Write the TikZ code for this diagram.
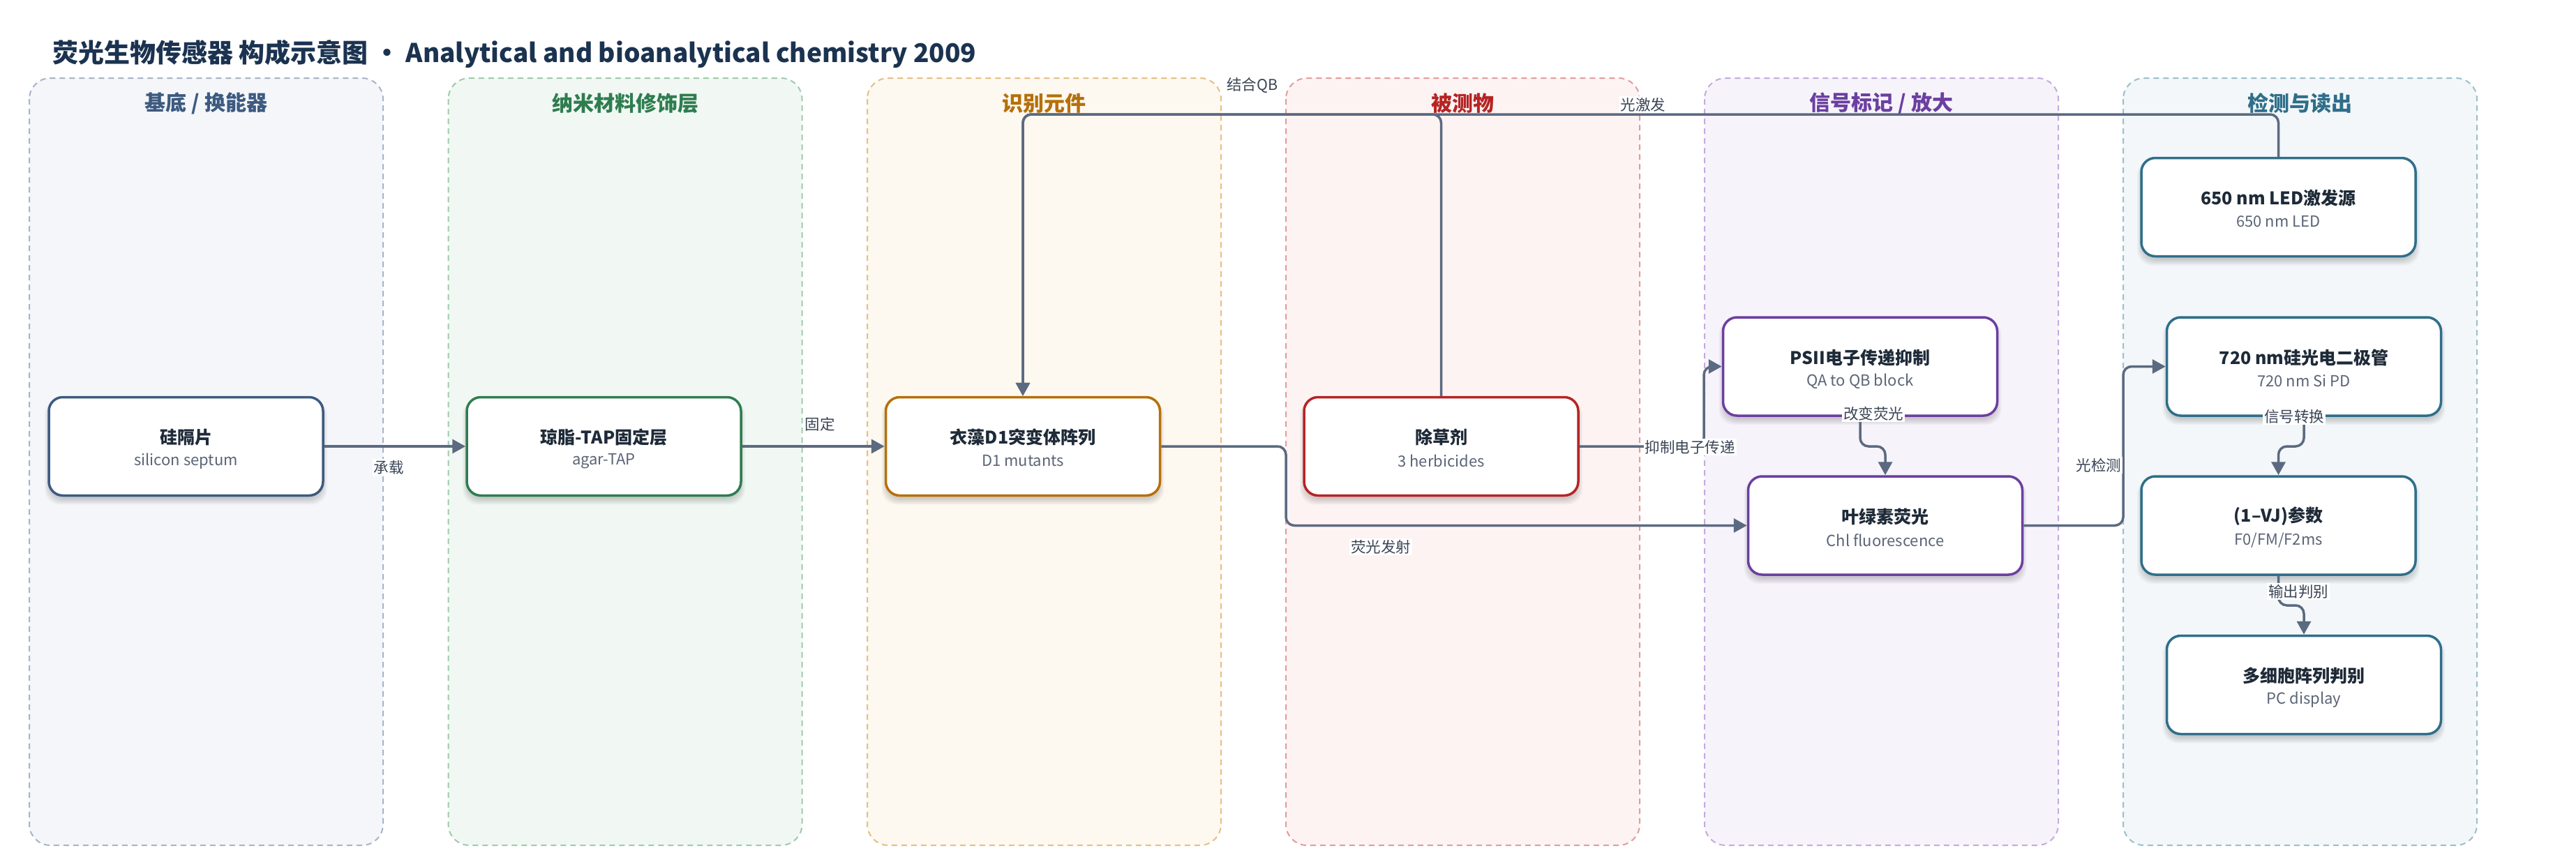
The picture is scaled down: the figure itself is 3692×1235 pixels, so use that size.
\documentclass[tikz,border=0pt]{standalone}
\usepackage{fontspec}
\setmainfont{Noto Sans CJK SC}
\usetikzlibrary{arrows.meta}
\definecolor{conncol}{HTML}{5B6A80}
\definecolor{titlecol}{HTML}{1B3350}
\definecolor{boxtxt}{HTML}{1E2A38}
\definecolor{subtxt}{HTML}{5B6577}
\definecolor{labtxt}{HTML}{3A4556}
\definecolor{cA}{HTML}{3D5A80}\definecolor{fA}{HTML}{F4F6FA}\definecolor{dA}{HTML}{A7B4C8}
\definecolor{cB}{HTML}{2E7D4F}\definecolor{fB}{HTML}{F1F8F3}\definecolor{dB}{HTML}{9FCBAB}
\definecolor{cC}{HTML}{B5700A}\definecolor{fC}{HTML}{FDF8F0}\definecolor{dC}{HTML}{E6BF85}
\definecolor{cD}{HTML}{B52424}\definecolor{fD}{HTML}{FDF3F3}\definecolor{dD}{HTML}{E39C9C}
\definecolor{cE}{HTML}{6B3FA0}\definecolor{fE}{HTML}{F7F3FB}\definecolor{dE}{HTML}{C4ABDF}
\definecolor{cF}{HTML}{2F6E8A}\definecolor{fF}{HTML}{F3F7F9}\definecolor{dF}{HTML}{9BBFCD}
\newcommand\mklane[6]{% name, x, fill, draw, textcol, title
  \draw[lane,fill=#3,draw=#4] (#2,112) rectangle ({#2+507},1212);
  \node[lanettl,text=#5] (#1) at ({#2+253.5},148) {#6};
}
\newcommand\mkbox[6]{% name, cx, cy, color, title, sub
  \foreach \k in {1,...,6}{%
    \fill[black,opacity=0.03,rounded corners=22pt] ({#2-194-\k*1.4},{#3-64-\k*0.6}) rectangle ({#2+194+\k*1.4},{#3+74+\k*1.6});}
  \node[box,draw=#4] (#1) at (#2,#3) {};
  \node[btitle] (#1t) at ([yshift=13pt]#1.center) {#5};
  \node[bsub] (#1s) at ([yshift=-21pt]#1.center) {#6};
}
\begin{document}
\begin{tikzpicture}[x=1pt,y=-1pt,
  lane/.style={line width=2pt,dash pattern=on 8pt off 6pt,rounded corners=30pt},
  lanettl/.style={font=\fontsize{30}{34}\selectfont\bfseries},
  box/.style={rectangle,rounded corners=20pt,fill=white,line width=3.5pt,minimum width=393pt,minimum height=141pt,inner sep=0pt},
  btitle/.style={font=\fontsize{25}{30}\selectfont\bfseries,text=boxtxt,inner sep=0pt},
  bsub/.style={font=\fontsize{22}{26}\selectfont,text=subtxt,inner sep=0pt},
  conn/.style={draw=conncol,line width=3.5pt,rounded corners=12pt,-{Triangle[length=19pt,width=20pt]}},
  elab/.style={fill=white,inner sep=2pt,font=\fontsize{21.5}{25}\selectfont,text=labtxt}]
\useasboundingbox (0,0) rectangle (3692,1235);
\fill[white] (0,0) rectangle (3692,1235);
\node[anchor=west,font=\fontsize{37}{42}\selectfont\bfseries,text=titlecol,inner sep=0pt] (title) at (75,77) {荧光生物传感器 构成示意图 · Analytical and bioanalytical chemistry 2009};
\mklane{l1}{42}{fA}{dA}{cA}{基底 / 换能器}
\mklane{l2}{642.5}{fB}{dB}{cB}{纳米材料修饰层}
\mklane{l3}{1243}{fC}{dC}{cC}{识别元件}
\mklane{l4}{1843}{fD}{dD}{cD}{被测物}
\mklane{l5}{2443}{fE}{dE}{cE}{信号标记 / 放大}
\mklane{l6}{3043}{fF}{dF}{cF}{检测与读出}
\mkbox{n1}{266.5}{640}{cA}{硅隔片}{silicon septum}
\mkbox{n2}{865.5}{640}{cB}{琼脂-TAP固定层}{agar-TAP}
\mkbox{n3}{1466}{640}{cC}{衣藻D1突变体阵列}{D1 mutants}
\mkbox{n4}{2065.5}{640}{cD}{除草剂}{3 herbicides}
\mkbox{n5}{2666}{525.5}{cE}{PSII电子传递抑制}{QA to QB block}
\mkbox{n6}{2702}{753.5}{cE}{叶绿素荧光}{Chl fluorescence}
\mkbox{n7}{3265.5}{297}{cF}{650 nm LED激发源}{650 nm LED}
\mkbox{n8}{3302}{525.5}{cF}{720 nm硅光电二极管}{720 nm Si PD}
\mkbox{n9}{3265.5}{753.5}{cF}{(1–VJ)参数}{F0/FM/F2ms}
\mkbox{n10}{3302}{982}{cF}{多细胞阵列判别}{PC display}
% connectors
\draw[conn] (n1.east) -- (n2.west);
\draw[conn] (n2.east) -- (n3.west);
\draw[conn] (n3.east) -- (1843,640) -- (1843,753.5) -- (n6.west);
\draw[conn] (n4.east) -- (2442,640) -- (2442,525.5) -- (n5.west);
\draw[conn] (n5.south) -- (2666,640) -- (2702,640) -- (n6.north);
\draw[conn] (n6.east) -- (3043,753.5) -- (3043,525.5) -- (n8.west);
\draw[conn] (n8.south) -- (3302,640) -- (3265.5,640) -- (n9.north);
\draw[conn] (n9.south) -- (3265.5,868) -- (3302,868) -- (n10.north);
\draw[conn] (n4.north) -- (2065.5,164) -- (1466,164) -- (n3.north);
\draw[conn] (n7.north) -- (3265.5,164) -- (1466,164) -- (n3.north);
% labels
\node[elab] (e1) at (557,670) {承载};
\node[elab] (e2) at (1175,608) {固定};
\node[elab] (e3) at (1979,784) {荧光发射};
\node[elab] (e4) at (2422,641) {抑制电子传递};
\node[elab] (e5) at (2685,593) {改变荧光};
\node[elab] (e6) at (3008,667) {光检测};
\node[elab] (e7) at (3288,597) {信号转换};
\node[elab] (e8) at (3294,848) {输出判别};
\node[elab] (e9) at (1795,122) {结合QB};
\node[elab] (e10) at (2355,150) {光激发};
\end{tikzpicture}
\end{document}
